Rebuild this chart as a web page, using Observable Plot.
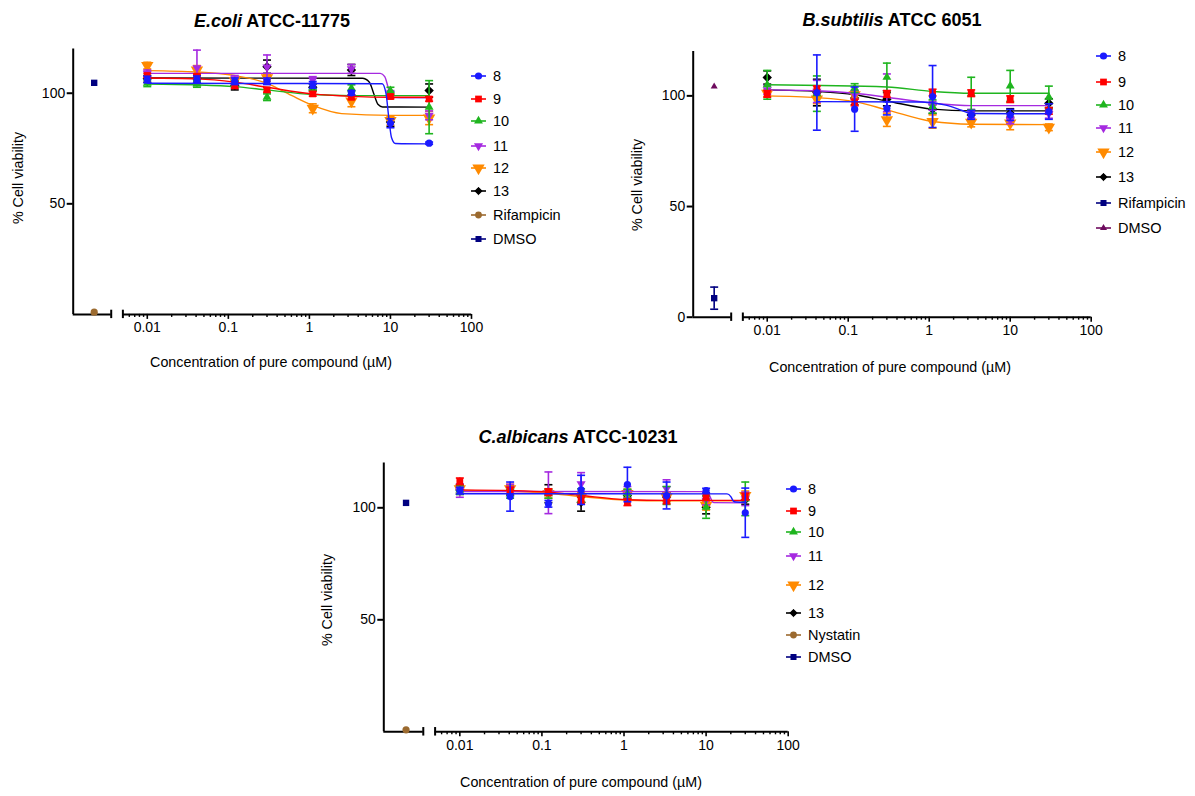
<!DOCTYPE html>
<html><head><meta charset="utf-8">
<script src="https://cdn.jsdelivr.net/npm/d3@7"></script>
<script src="https://cdn.jsdelivr.net/npm/@observablehq/plot@0.6"></script>
<style>
body{margin:0;background:#fff;font-family:"Liberation Sans",Arial,Helvetica,sans-serif;color:#000;}
#page{position:relative;width:1195px;height:796px;overflow:hidden;background:#fff;}
#page svg text{font-family:"Liberation Sans",Arial,sans-serif !important;font-size:14px !important;fill:#000;}
.abs{position:absolute;white-space:nowrap;}
.title{font-weight:bold;font-size:18px;transform:translate(-50%,-50%);}
.xlab{font-size:14.3px;transform:translate(-50%,-50%);}
.ylab{font-size:14.3px;transform:translate(-50%,-50%) rotate(-90deg);}
.legtext{font-size:14.5px;transform:translateY(-50%);}
</style></head><body><div id="page"></div>
<script>
// ---------- DATA ----------
const concentrations = [0.01, 0.041, 0.12, 0.3, 1.1, 3.3, 10, 30];
const compoundNames = ["8", "9", "10", "11", "12", "13"];
const compoundColors = ["#1a1aff", "#ff0000", "#1fb51f", "#a52ae0", "#ff8a00", "#000000"];
const compoundSymbols = ["circle", "square", "triangle", "triangleDown", "triangleDown", "diamond2"];
const xTickValues = [0.01, 0.1, 1, 10, 100];
const xTickLabels = ["0.01", "0.1", "1", "10", "100"];

// E. coli ATCC-11775
const ecoliMeans = [
  [106.2, 106.3, 105.4, 105.4, 103.8, 100.2, 86.4, 77.4],
  [108.0, 107.7, 103.3, 101.5, 99.7, 98.2, 98.5, 97.4],
  [104.5, 104.2, 104.0, 98.2, 102.7, 102.3, 101.2, 93.7],
  [109.0, 111.5, 106.5, 111.8, 106.0, 111.0, 99.7, 90.0],
  [112.5, 110.5, 105.7, 107.0, 93.2, 96.4, 87.6, 88.8],
  [106.5, 106.5, 103.5, 112.0, 102.7, 110.5, 87.0, 101.2]
];
const ecoliSD = [
  [1.5, 1.5, 1.5, 1.5, 1.5, 1.0, 2.0, 0.5],
  [1.0, 1.0, 1.0, 1.0, 1.0, 1.0, 1.0, 1.0],
  [1.5, 1.5, 1.5, 1.5, 1.5, 1.5, 1.5, 12.0],
  [1.5, 8.0, 1.5, 5.5, 1.5, 2.0, 1.5, 2.0],
  [1.5, 2.0, 1.5, 1.5, 2.0, 2.5, 2.0, 3.0],
  [1.5, 1.5, 2.0, 3.0, 1.5, 2.5, 2.0, 3.0]
];
const ecoliCurves = [
  [[0.01, 104.5], [7.9, 104.3], [8.8, 100], [9.6, 88], [10.3, 80], [11.5, 77.3], [30, 77.1]],
  [[0.01, 106.9], [0.041, 106.5], [0.12, 105], [0.3, 102.7], [1.1, 99.7], [3.3, 98.6], [10, 98.2], [30, 98.2]],
  [[0.01, 104.2], [0.041, 103.8], [0.12, 103], [0.3, 101.5], [1.1, 99.4], [3.3, 98.9], [30, 98.9]],
  [[0.01, 109], [7.5, 109], [8.5, 107.5], [9.3, 103], [10, 99], [11, 98], [30, 97.9]],
  [[0.01, 110.2], [0.041, 109.6], [0.12, 108], [0.3, 104.5], [0.6, 99], [1.1, 94.5], [2.5, 90.8], [10, 90], [30, 90]],
  [[0.01, 106.9], [4.5, 106.8], [5.5, 105], [6.2, 100], [7, 95], [8, 93.8], [30, 93.7]]
];
const ecoliControlNames = ["Rifampicin", "DMSO"];
const ecoliControlValues = [1.0, 104.7];
const ecoliControlSD = [0, 0];
const ecoliControlColors = ["#9b6a2f", "#000080"];
const ecoliControlSymbols = ["circle", "square"];

// B. subtilis ATCC 6051
const bsubMeans = [
  [null, 101.5, 94.0, 94.4, 99.7, 91.4, 91.4, 92.9],
  [100.9, 103.0, 97.0, 100.9, 101.5, 101.2, 98.5, 93.2],
  [105.0, 101.0, 103.5, 108.4, 95.2, 101.0, 104.5, 99.4],
  [102.7, 102.0, 100.5, 101.4, 95.5, 91.9, 88.9, 91.9],
  [101.2, 98.5, 100.5, 89.2, 88.4, 88.0, 87.7, 85.8],
  [108.3, 101.5, 99.0, 98.5, 94.0, 91.4, 92.2, 96.7]
];
const bsubSD = [
  [0, 17, 10, 3, 14, 2, 2.5, 3.5],
  [1.5, 1.5, 1.5, 1.5, 1.5, 1.5, 1.5, 1.5],
  [6.5, 8, 2, 6.4, 3, 7.4, 7, 5],
  [2, 5, 2, 8.5, 2, 2, 1.5, 2],
  [1.5, 2, 1.5, 3, 3, 2, 3, 1.5],
  [3, 6, 3, 3, 2, 2, 2, 2]
];
const bsubCurves = [
  [[0.041, 97.4], [0.8, 97.2], [1.6, 95.8], [2.5, 93.5], [3.3, 92], [30, 91.9]],
  [],
  [[0.01, 105], [0.3, 104], [1.1, 102], [3.3, 101.2], [30, 101.2]],
  [[0.01, 102.7], [0.041, 102.3], [0.12, 101.2], [0.3, 99.4], [1.1, 96.7], [3.3, 95.6], [30, 95.6]],
  [[0.01, 100], [0.041, 99.2], [0.12, 97.4], [0.3, 93.7], [1.1, 88.4], [3.3, 87.2], [30, 87]],
  [[0.01, 102.7], [0.041, 102], [0.12, 100.5], [0.3, 97.7], [1.1, 94], [3.3, 93.2], [30, 93.2]]
];
const bsubControlNames = ["Rifampicin", "DMSO"];
const bsubControlValues = [8.6, 104.2];
const bsubControlSD = [5, 0];
const bsubControlColors = ["#000080", "#6e0b5e"];
const bsubControlSymbols = ["square", "triangle"];

// C. albicans ATCC-10231
const calbMeans = [
  [107.7, 105.0, 101.8, 108.0, 110.4, 105.5, 107.7, 97.8],
  [111.8, 107.7, 107.0, 103.3, 102.5, 103.3, 104.8, 105.0],
  [108.0, 106.3, 106.3, 105.5, 106.3, 105.5, 100.3, 104.0],
  [107.7, 108.5, 106.7, 110.7, 107.0, 108.5, 103.3, 104.0],
  [108.5, 108.5, 106.3, 104.8, 106.3, 104.8, 101.0, 105.5],
  [108.0, 107.7, 106.3, 102.5, 105.5, 104.8, 100.3, 103.6]
];
const calbSD = [
  [1.5, 6.5, 1.5, 6.5, 7.7, 6, 1, 11],
  [1.5, 1.5, 1.5, 1.5, 1.5, 1.5, 1.5, 1.5],
  [2, 2, 2, 3, 2, 4, 5, 7.5],
  [3, 2, 9.3, 5, 2.5, 4, 2, 3],
  [2, 2, 2, 2, 2, 2, 2, 2],
  [2, 2, 4, 4, 2, 2, 3, 2]
];
const calbCurves = [
  [[0.01, 106.3], [18, 106.2], [20, 105], [21.5, 103], [23, 102.6], [30, 102.5]],
  [[0.01, 108], [0.041, 107.7], [0.12, 107], [0.3, 105.5], [1.1, 103.6], [3.3, 103.3], [30, 103.3]],
  [],
  [[0.01, 107.3], [10, 107.2], [11, 105.5], [11.8, 103], [12.5, 102.3], [30, 102.2]],
  [[0.01, 107.7], [0.041, 107.4], [0.12, 106.5], [0.3, 105], [1.1, 103.4], [3.3, 103.1], [30, 103.1]],
  []
];
const calbControlNames = ["Nystatin", "DMSO"];
const calbControlValues = [0.9, 102.2];
const calbControlSD = [0, 0];
const calbControlColors = ["#9b6a2f", "#000080"];
const calbControlSymbols = ["circle", "square"];

// ---------- RENDERING ----------
const CTRL_END = -2.445, MAIN_START = Math.log10(0.005), CTRL_X = -2.655;
const compoundRadius = [3.6, 3.8, 3.3, 3.4, 4.6, 3.3];
const capSymbol = {draw(ctx, size) { const w = Math.sqrt(size) / 2; ctx.moveTo(-w, 0); ctx.lineTo(w, 0); }};
function sym(name) { return name === "triangleDown" ? {symbol: "triangle", rotate: 180} : {symbol: name, rotate: 0}; }
const minorTicks = [];
for (let e = -3; e <= 1; e++) for (let k = 2; k <= 9; k++) {
  const v = k * Math.pow(10, e);
  if (v > 0.0051 && v < 100) minorTicks.push(Math.log10(v));
}
const page = document.getElementById("page");
function addDiv(cls, html, left, top) {
  const d = document.createElement("div");
  d.className = "abs " + cls; d.innerHTML = html;
  d.style.left = left + "px"; d.style.top = top + "px";
  page.appendChild(d); return d;
}

function drawPanel(p) {
  const marks = [];
  const L = v => Math.log10(v);
  marks.push(Plot.ruleX([p.xMin], {y1: 0, y2: 120, strokeWidth: 2}));
  marks.push(Plot.ruleY([0], {x1: p.xMin, x2: CTRL_END, strokeWidth: 2}));
  marks.push(Plot.ruleY([0], {x1: MAIN_START, x2: 2, strokeWidth: 2}));
  marks.push(Plot.ruleX([CTRL_END, MAIN_START], {y1: -1.9, y2: 1.9, strokeWidth: 2}));
  marks.push(Plot.axisY({ticks: p.yTicks, tickSize: 6, tickPadding: 2, strokeWidth: 2, fontSize: 14, label: null, tickFormat: d => String(d)}));
  marks.push(Plot.axisX({ticks: xTickValues.map(L), tickSize: 5, tickPadding: 3, strokeWidth: 1.6, fontSize: 14, label: null,
    tickFormat: d => xTickLabels[xTickValues.findIndex(v => Math.abs(L(v) - d) < 1e-9)]}));
  marks.push(Plot.axisX({ticks: minorTicks, tickSize: 3, strokeWidth: 1.4, label: null, tickFormat: () => ""}));

  // controls
  p.ctrlValues.forEach((v, i) => {
    const row = [{x: CTRL_X, y: v, sd: p.ctrlSD[i]}];
    const c = p.ctrlColors[i];
    if (p.ctrlSD[i] > 0) {
      marks.push(Plot.ruleX(row, {x: "x", y1: d => d.y - d.sd, y2: d => d.y + d.sd, stroke: c, strokeWidth: 1.6}));
      marks.push(Plot.dot(row, {x: "x", y: d => d.y + d.sd, symbol: capSymbol, r: 4.5, stroke: c, strokeWidth: 1.6, fill: "none"}));
      marks.push(Plot.dot(row, {x: "x", y: d => d.y - d.sd, symbol: capSymbol, r: 4.5, stroke: c, strokeWidth: 1.6, fill: "none"}));
    }
    const s = sym(p.ctrlSymbols[i]);
    marks.push(Plot.dot(row, {x: "x", y: "y", symbol: s.symbol, rotate: s.rotate, r: p.ctrlSymbols[i] === "triangle" ? 2.6 : 3.6, fill: c, stroke: "none"}));
  });

  // compounds (drawn so that compound 8 ends on top)
  for (let si = compoundNames.length - 1; si >= 0; si--) {
    const c = compoundColors[si];
    const rows = concentrations.map((cx, i) => ({x: L(cx), y: p.means[si][i], sd: p.sd[si][i]})).filter(d => d.y != null);
    marks.push(Plot.ruleX(rows, {x: "x", y1: d => d.y - d.sd, y2: d => d.y + d.sd, stroke: c, strokeWidth: 1.6}));
    marks.push(Plot.dot(rows, {x: "x", y: d => d.y + d.sd, symbol: capSymbol, r: 4.5, stroke: c, strokeWidth: 1.6, fill: "none"}));
    marks.push(Plot.dot(rows, {x: "x", y: d => d.y - d.sd, symbol: capSymbol, r: 4.5, stroke: c, strokeWidth: 1.6, fill: "none"}));
    if (p.curves[si].length) marks.push(Plot.line(p.curves[si], {x: d => L(d[0]), y: d => d[1], stroke: c, strokeWidth: 1.4, curve: "monotone-x"}));
    const s = sym(compoundSymbols[si]);
    marks.push(Plot.dot(rows, {x: "x", y: "y", symbol: s.symbol, rotate: s.rotate, r: compoundRadius[si], fill: c, stroke: s.symbol === "diamond2" ? c : "none"}));
  }

  const svg = Plot.plot({
    width: p.width, height: p.height,
    marginLeft: p.mL, marginRight: p.mR, marginTop: p.mT, marginBottom: p.mB,
    x: {type: "linear", domain: [p.xMin, 2]},
    y: {type: "linear", domain: [0, 120]},
    style: {fontFamily: '"Liberation Sans", Arial, sans-serif', fontSize: "14px", color: "#000", background: "transparent", overflow: "visible"},
    marks
  });
  svg.style.position = "absolute";
  svg.style.left = p.left + "px";
  svg.style.top = p.top + "px";
  page.appendChild(svg);

  addDiv("title", p.title, p.titleX, p.titleY);
  addDiv("xlab", "Concentration of pure compound (µM)", p.xlabX, p.xlabY);
  addDiv("ylab", "% Cell viability", p.ylabX, p.ylabY);

  // legend
  const names = compoundNames.concat(p.ctrlNames);
  const colors = compoundColors.concat(p.ctrlColors);
  const symbols = compoundSymbols.concat(p.ctrlSymbols);
  const radius = compoundRadius.concat(p.ctrlSymbols.map(s => s === "triangle" ? 2.6 : 3.4));
  names.forEach((n, i) => {
    const y = p.legYs[i];
    const s = sym(symbols[i]);
    const d3sym = {circle: d3.symbolCircle, square: d3.symbolSquare, triangle: d3.symbolTriangle, diamond2: d3.symbolDiamond2}[s.symbol];
    const path = d3.symbol(d3sym, Math.PI * radius[i] * radius[i])();
    const ns = "http://www.w3.org/2000/svg";
    const g = document.createElementNS(ns, "svg");
    g.setAttribute("width", 20); g.setAttribute("height", 14);
    g.style.position = "absolute"; g.style.left = (p.legX - 1) + "px"; g.style.top = (y - 7) + "px";
    g.innerHTML = `<line x1="1" x2="16" y1="7" y2="7" stroke="${colors[i]}" stroke-width="1.6"/>` +
      `<path d="${path}" fill="${colors[i]}" stroke="${s.symbol === "diamond2" ? colors[i] : "none"}" transform="translate(8.5,7) rotate(${s.rotate})"/>`;
    page.appendChild(g);
    addDiv("legtext", n, p.legTextX, y);
  });
}

drawPanel({
  means: ecoliMeans, sd: ecoliSD, curves: ecoliCurves,
  ctrlNames: ecoliControlNames, ctrlValues: ecoliControlValues, ctrlSD: ecoliControlSD, ctrlColors: ecoliControlColors, ctrlSymbols: ecoliControlSymbols,
  left: 0, top: 30, width: 490, height: 320, mL: 72.7, mR: 19, mT: 18.5, mB: 36.1, xMin: -2.914, yTicks: [50, 100],
  title: "<i>E.coli</i> ATCC-11775", titleX: 272, titleY: 21,
  xlabX: 271, xlabY: 362, ylabX: 18, ylabY: 178,
  legX: 471, legTextX: 493, legYs: [75.7, 99, 121, 146, 168, 191, 215, 239]
});
drawPanel({
  means: bsubMeans, sd: bsubSD, curves: bsubCurves,
  ctrlNames: bsubControlNames, ctrlValues: bsubControlValues, ctrlSD: bsubControlSD, ctrlColors: bsubControlColors, ctrlSymbols: bsubControlSymbols,
  left: 620, top: 30, width: 490, height: 320, mL: 72.7, mR: 19.3, mT: 21.1, mB: 33.3, xMin: -2.914, yTicks: [0, 50, 100],
  title: "<i>B.subtilis</i> ATCC 6051", titleX: 892, titleY: 20,
  xlabX: 890, xlabY: 367, ylabX: 637, ylabY: 185,
  legX: 1096, legTextX: 1118, legYs: [56, 82.3, 105, 128.3, 152.3, 176.7, 203.3, 228.3]
});
drawPanel({
  means: calbMeans, sd: calbSD, curves: calbCurves,
  ctrlNames: calbControlNames, ctrlValues: calbControlValues, ctrlSD: calbControlSD, ctrlColors: calbControlColors, ctrlSymbols: calbControlSymbols,
  left: 310, top: 445, width: 490, height: 320, mL: 73.3, mR: 12.3, mT: 17.5, mB: 33.7, xMin: -2.926, yTicks: [50, 100],
  title: "<i>C.albicans</i> ATCC-10231", titleX: 578, titleY: 437,
  xlabX: 581, xlabY: 782, ylabX: 327, ylabY: 600,
  legX: 786, legTextX: 808, legYs: [489, 510.7, 531.7, 556, 585, 613.3, 635, 656.7]
});
</script></body></html>
